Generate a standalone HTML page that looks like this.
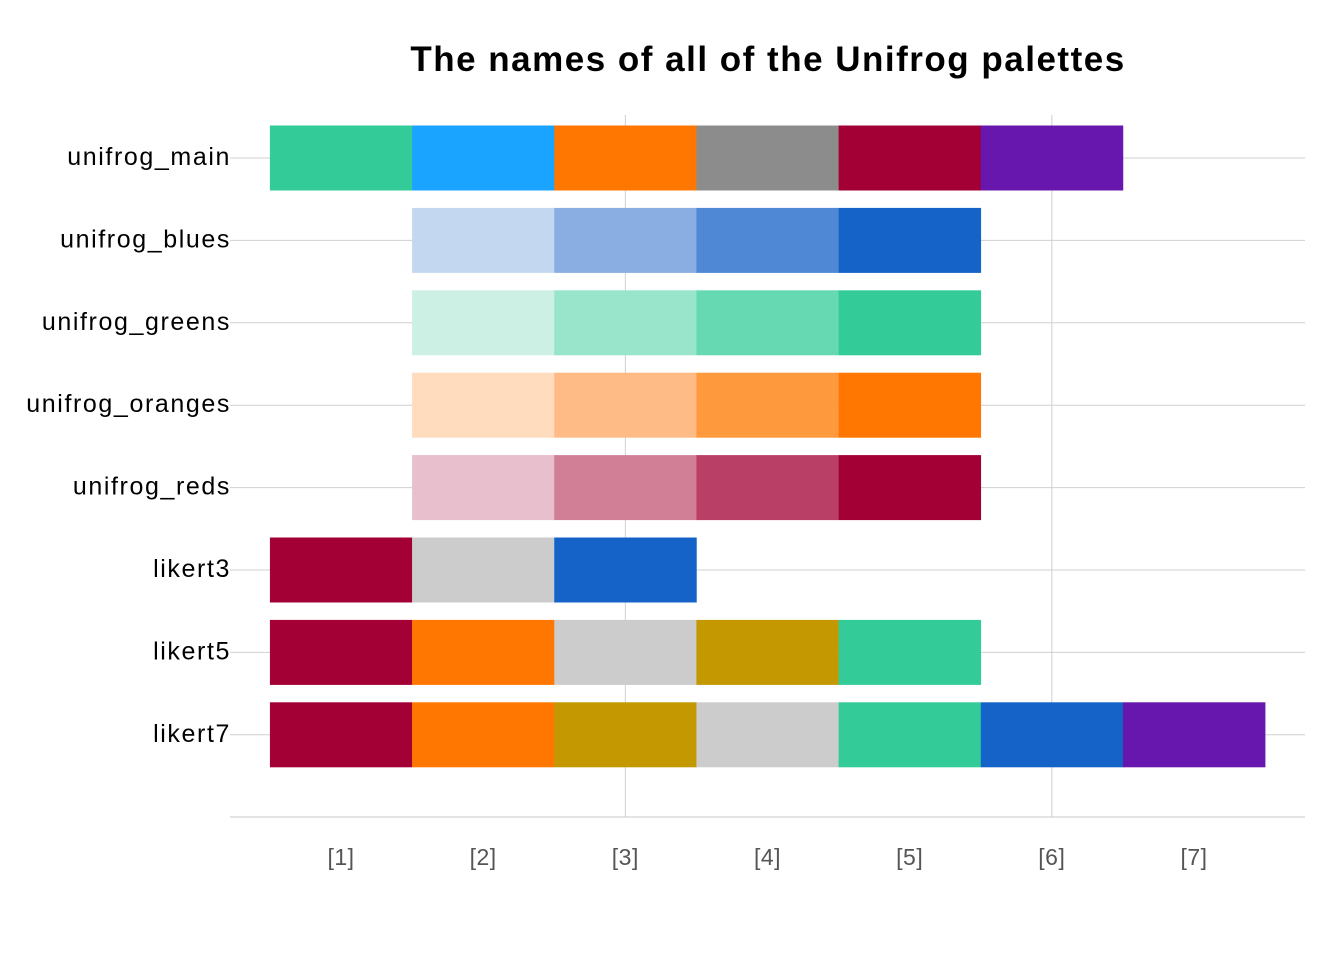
<!DOCTYPE html>
<html><head><meta charset="utf-8"><style>
body{margin:0;background:#fff;}
svg text{font-family:"Liberation Sans",Arial,sans-serif;}
</style></head><body>
<svg id="chart" width="1344" height="960" viewBox="0 0 1344 960">
<text x="768" y="71" text-anchor="middle" font-size="35" letter-spacing="1.5" font-weight="bold" fill="#000">The names of all of the Unifrog palettes</text>
<g id="grid"></g><g id="bars"></g><g id="labels"></g>
</svg>
<script>
const paletteNames = ["unifrog_main","unifrog_blues","unifrog_greens","unifrog_oranges","unifrog_reds","likert3","likert5","likert7"];
const paletteStarts = [1,2,2,2,2,1,1,1];
const paletteColors = [
 ["#33CC99","#1AA3FF","#FF7700","#8C8C8C","#A30035","#6717AD"],
 ["#C4D7F0","#8AAEE2","#4F89D6","#1563C8"],
 ["#CCF0E4","#99E5CC","#66D9B2","#33CC99"],
 ["#FFDCBD","#FFBB85","#FF993D","#FF7700"],
 ["#E8BFCC","#D17F97","#BA3F66","#A30035"],
 ["#A30035","#CCCCCC","#1563C8"],
 ["#A30035","#FF7700","#CCCCCC","#C49800","#33CC99"],
 ["#A30035","#FF7700","#C49800","#CCCCCC","#33CC99","#1563C8","#6717AD"]
];
const xTicks = ["[1]","[2]","[3]","[4]","[5]","[6]","[7]"];
const ns="http://www.w3.org/2000/svg";
const step=142.17, x0=341;
function xPos(i){return x0+(i-1)*step;}
function yPos(r){return 158+r*82.4;}
function mk(tag,attrs,parent){const e=document.createElementNS(ns,tag);for(const k in attrs)e.setAttribute(k,attrs[k]);parent.appendChild(e);return e;}
const grid=document.getElementById('grid'),bars=document.getElementById('bars'),labels=document.getElementById('labels');
paletteNames.forEach((n,r)=>{
 const l=mk('line',{x1:230,x2:1305,y1:yPos(r),y2:yPos(r),stroke:'#d0d0d0','stroke-width':1},grid);
 
 
 const t=mk('text',{x:231,y:yPos(r)+7,'text-anchor':'end','font-size':25,'letter-spacing':1.6,fill:'#000'},labels);
 t.textContent=n;
 
 
 paletteColors[r].forEach((c,k)=>{
  const i=paletteStarts[r]+k;
  const b=mk('rect',{x:xPos(i)-step/2,y:yPos(r)-32.5,width:step+0.3,height:65,fill:c},bars);
  
  
 });
});
[3,6].forEach(i=>{
 const v=mk('line',{x1:xPos(i),x2:xPos(i),y1:115,y2:817,stroke:'#d0d0d0','stroke-width':1},grid);
 
 
});
const ax=mk('line',{x1:230,x2:1305,y1:817,y2:817,stroke:'#c8c8c8','stroke-width':1},grid);


xTicks.forEach((s,k)=>{
 const t=mk('text',{x:xPos(k+1),y:865,'text-anchor':'middle','font-size':23,'letter-spacing':0.5,fill:'#555'},labels);
 t.textContent=s;
 
 
});
</script>
</body></html>
